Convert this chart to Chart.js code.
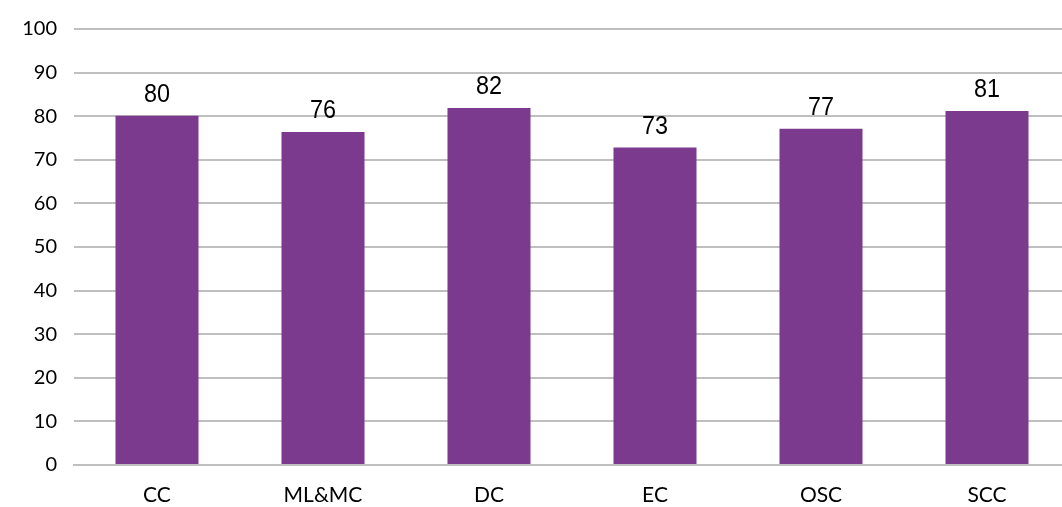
<!DOCTYPE html>
<html>
<head>
<meta charset="utf-8">
<script src="https://cdn.jsdelivr.net/npm/chart.js@4/dist/chart.umd.min.js"></script>
<style>
  html, body { margin: 0; padding: 0; background: #fff; overflow: hidden; }
  #wrap { width: 1062px; height: 507px; overflow: hidden; }
</style>
</head>
<body>
<div id="wrap"><canvas id="chart" width="1070" height="507"></canvas></div>
<script>
const categories = ["CC", "ML&MC", "DC", "EC", "OSC", "SCC"];
const scores = [80.1, 76.4, 81.9, 72.8, 77.1, 81.2];
const scoreLabels = ["80", "76", "82", "73", "77", "81"];

// values written above each bar (slightly narrowed, like the original)
const barLabels = {
  id: 'barLabels',
  afterDatasetsDraw(chart) {
    const ctx = chart.ctx;
    const meta = chart.getDatasetMeta(0);
    ctx.save();
    ctx.font = '26px "Liberation Sans", Arial, sans-serif';
    ctx.fillStyle = '#000';
    ctx.textAlign = 'center';
    ctx.textBaseline = 'alphabetic';
    meta.data.forEach((bar, i) => {
      ctx.save();
      ctx.translate(bar.x, bar.y - 14);
      ctx.scale(0.9, 1);
      ctx.fillText(scoreLabels[i], 0, 0);
      ctx.restore();
    });
    ctx.restore();
  }
};

new Chart(document.getElementById("chart"), {
  type: 'bar',
  data: {
    labels: categories,
    datasets: [{
      data: scores,
      backgroundColor: "#7B3A8E",
      barPercentage: 0.5,
      categoryPercentage: 1,
    }]
  },
  options: {
    responsive: false,
    animation: false,
    layout: { padding: { top: 29, right: 0, left: 0, bottom: 0 } },
    plugins: { legend: { display: false }, tooltip: { enabled: false } },
    scales: {
      x: {
        grid: { display: false, drawTicks: false },
        border: { display: true, color: '#bfbfbf', width: 2 },
        ticks: { color: '#000', padding: 18, font: { family: 'Lato', size: 21 } },
        afterFit: s => { s.height = 42; }
      },
      y: {
        min: 0, max: 100,
        ticks: { stepSize: 10, color: '#000', padding: 17, font: { family: 'Lato', size: 20 } },
        grid: { color: '#bfbfbf', lineWidth: 2, drawTicks: false },
        border: { display: false },
        afterFit: s => { s.width = 74; }
      }
    }
  },
  plugins: [barLabels]
});
</script>
</body>
</html>
